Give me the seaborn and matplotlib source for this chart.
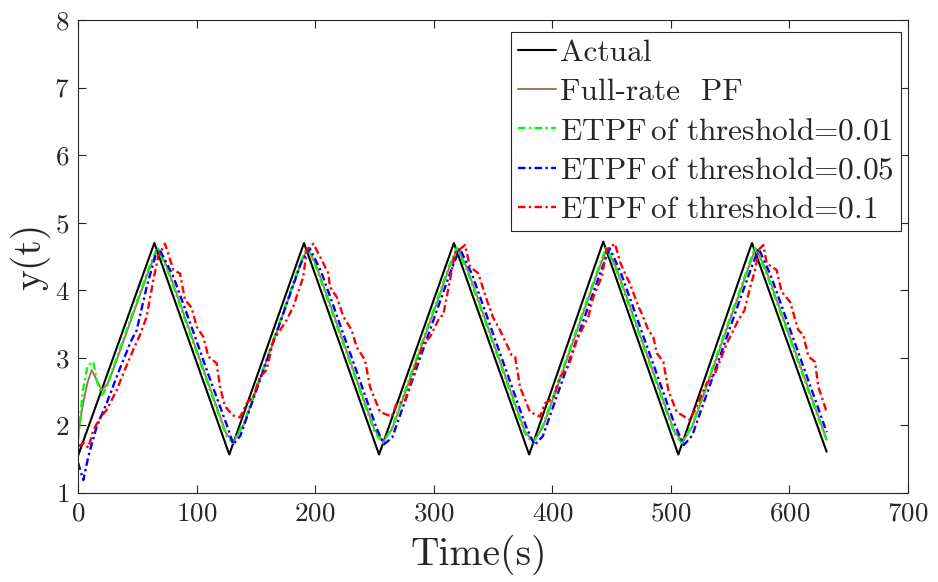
import numpy as np
import pandas as pd
import matplotlib
matplotlib.use("Agg")
import matplotlib.pyplot as plt
import seaborn as sns

# ---------------- data ----------------
actual_t = [0, 64.4, 127.6, 190.6, 253.9, 317, 380.5, 443, 506.3, 568.4, 631.4]
actual_y = [1.55, 4.7, 1.57, 4.7, 1.57, 4.7, 1.57, 4.72, 1.57, 4.7, 1.61]

pf_t = [0, 4, 8, 11.5, 15, 20, 25, 30, 40, 50, 60, 67.5,
        75, 85, 95, 105, 115, 125, 131,
        140, 150, 160, 170, 180, 188, 193.5,
        200, 210, 220, 230, 240, 250, 257.5,
        265, 275, 285, 295, 305, 313, 320,
        328, 338, 348, 358, 368, 377, 384,
        392, 402, 412, 422, 432, 440, 446,
        454, 464, 474, 484, 494, 503, 510,
        518, 528, 538, 548, 558, 566, 571.5,
        580, 590, 600, 610, 620, 631.4]
pf_y = [1.85, 2.3, 2.63, 2.82, 2.7, 2.52, 2.62, 2.84, 3.33, 3.82, 4.31, 4.62,
        4.35, 3.86, 3.36, 2.87, 2.37, 1.88, 1.76,
        2.02, 2.51, 3.0, 3.5, 4.0, 4.4, 4.62,
        4.41, 3.92, 3.42, 2.93, 2.43, 1.94, 1.76,
        1.95, 2.44, 2.94, 3.44, 3.93, 4.33, 4.62,
        4.33, 3.84, 3.34, 2.85, 2.35, 1.91, 1.76,
        1.97, 2.46, 2.96, 3.46, 3.96, 4.35, 4.62,
        4.33, 3.84, 3.34, 2.85, 2.35, 1.91, 1.76,
        1.98, 2.47, 2.97, 3.47, 3.96, 4.36, 4.62,
        4.31, 3.82, 3.33, 2.84, 2.35, 1.79]

e01_t = [0, 4, 8, 12.9, 16, 20, 24, 30, 40, 50, 60, 66.9,
         75, 85, 95, 105, 115, 125, 130.6,
         140, 150, 160, 170, 180, 188, 193.1,
         200, 210, 220, 230, 240, 250, 256.9,
         265, 275, 285, 295, 305, 313, 319.5,
         328, 338, 348, 358, 368, 377, 383.5,
         392, 402, 412, 422, 432, 440, 445.5,
         454, 464, 474, 484, 494, 503, 509.3,
         518, 528, 538, 548, 558, 566, 570.9,
         580, 590, 600, 610, 620, 631.4]
e01_y = [1.78, 2.5, 2.88, 2.94, 2.65, 2.45, 2.55, 2.87, 3.36, 3.85, 4.34, 4.63,
         4.32, 3.83, 3.33, 2.84, 2.34, 1.85, 1.74,
         2.04, 2.54, 3.03, 3.53, 4.03, 4.43, 4.63,
         4.38, 3.89, 3.39, 2.90, 2.40, 1.91, 1.74,
         1.97, 2.47, 2.97, 3.47, 3.96, 4.36, 4.63,
         4.30, 3.81, 3.31, 2.82, 2.32, 1.88, 1.74,
         1.99, 2.49, 2.99, 3.49, 3.99, 4.38, 4.63,
         4.30, 3.81, 3.31, 2.82, 2.32, 1.88, 1.74,
         2.0, 2.5, 3.0, 3.5, 3.99, 4.39, 4.63,
         4.28, 3.79, 3.30, 2.81, 2.32, 1.78]

e05_t = [0, 4.5, 8.7, 15.7, 24.2, 33.7, 45, 49.5, 57.9, 66.3, 68.6,
         80, 90, 100, 110, 120, 126, 131,
         137, 148, 158, 168, 178, 188, 195.5,
         205, 215, 225, 235, 245, 252, 258,
         265, 275, 285, 295, 305, 315, 322,
         332, 342, 352, 362, 372, 378, 385,
         392, 402, 412, 422, 432, 442, 448.5,
         458, 468, 478, 488, 498, 504, 511,
         518, 528, 538, 548, 558, 567, 574,
         584, 594, 604, 614, 624, 631.4]
e05_y = [1.45, 1.19, 1.54, 1.98, 2.33, 2.77, 3.26, 3.41, 4.05, 4.57, 4.61,
         4.22, 3.74, 3.25, 2.75, 2.27, 1.98, 1.72,
         1.85, 2.4, 2.9, 3.4, 3.9, 4.4, 4.62,
         4.28, 3.79, 3.29, 2.80, 2.30, 1.95, 1.72,
         1.82, 2.32, 2.82, 3.32, 3.82, 4.31, 4.62,
         4.25, 3.76, 3.26, 2.77, 2.27, 1.98, 1.71,
         1.84, 2.34, 2.84, 3.34, 3.84, 4.33, 4.62,
         4.25, 3.76, 3.26, 2.77, 2.27, 1.98, 1.71,
         1.85, 2.35, 2.85, 3.35, 3.85, 4.29, 4.62,
         4.23, 3.74, 3.25, 2.76, 2.27, 1.9]

e1_t = [0, 5, 8.7, 12.9, 18.6, 24.2, 32.6, 38.2, 46.6, 52.3, 57.9, 63.5, 67.7, 73.4,
        80.4, 86, 90.2, 95.9, 100.1, 105.7, 109.9, 116.9, 119.8, 124, 130.7, 136.6,
        142.3, 147.9, 153.5, 159.1, 164.7, 170.4, 176, 181.6, 187.2, 190, 192.9, 198.5,
        205.5, 211.1, 212.5, 218.2, 223.8, 230.8, 235, 242, 246.3, 254.7, 264.6,
        268.8, 275.8, 282.8, 291.2, 296.9, 305.3, 308, 313.7, 318, 326.4,
        330.6, 337.6, 344.7, 350, 355.9, 365.8, 368.6, 372.8, 381.2, 389.6,
        393.9, 400.9, 406.5, 413.5, 420.6, 430.4, 434.6, 441.7, 445.9, 452.9,
        457.1, 461.3, 465.5, 472.6, 475.4, 481, 485.2, 488.1, 493.7, 497.9, 504.9, 516.1,
        521.8, 530.2, 537.2, 547.1, 556.9, 562, 567, 571, 574, 578,
        580.8, 589.2, 593.4, 600.5, 607.5, 611.7, 616, 621.6, 624.4, 631.4]
e1_y = [1.69, 1.74, 1.67, 1.93, 2.11, 2.23, 2.52, 2.77, 3.12, 3.34, 3.61, 4.15, 4.5, 4.69,
        4.3, 4.25, 3.86, 3.74, 3.46, 3.31, 3.02, 2.92, 2.57, 2.28, 2.15, 2.12,
        2.33, 2.43, 2.72, 2.82, 3.26, 3.41, 3.56, 3.76, 4.05, 4.2, 4.6, 4.69,
        4.45, 4.25, 4.05, 3.9, 3.61, 3.41, 3.16, 2.97, 2.57, 2.2, 2.13,
        2.33, 2.35, 2.77, 3.21, 3.31, 3.61, 3.63, 4.15, 4.55, 4.67,
        4.35, 4.25, 3.86, 3.6, 3.41, 3.04, 3.02, 2.57, 2.2, 2.13,
        2.33, 2.4, 2.72, 2.87, 3.26, 3.61, 3.9, 4.2, 4.6, 4.69,
        4.42, 4.25, 4.1, 3.76, 3.66, 3.41, 3.31, 3.07, 2.94, 2.52, 2.2, 2.08,
        2.28, 2.62, 2.77, 3.21, 3.56, 3.7, 4.05, 4.3, 4.6, 4.67,
        4.4, 4.3, 3.98, 3.83, 3.41, 3.34, 3.02, 2.94, 2.57, 2.2]

labels = ["Actual", "Full-rate  PF", r"ETPF$\,$of threshold=0.01",
          r"ETPF$\,$of threshold=0.05", r"ETPF$\,$of threshold=0.1"]
x_ticks = [0, 100, 200, 300, 400, 500, 600, 700]
y_ticks = [1, 2, 3, 4, 5, 6, 7, 8]

# ---------------- style ----------------
sns.set_theme(style="white")
plt.rcParams["font.family"] = ["cmr10", "DejaVu Serif"]
plt.rcParams["axes.formatter.use_mathtext"] = True
plt.rcParams["mathtext.fontset"] = "cm"

fig = plt.figure(figsize=(9.38, 5.82), dpi=100)
ax = fig.add_axes([78 / 938, 1 - 493 / 582, 830 / 938, 473 / 582])

dd = (0, (3.2, 1.4, 1.0, 1.4))
series = [
    (actual_t, actual_y, "black", "-", 1.5),
    (pf_t, pf_y, "#a8705c", "-", 1.4),
    (e01_t, e01_y, "#00ff00", dd, 1.7),
    (e05_t, e05_y, "#0000ff", dd, 1.7),
    (e1_t, e1_y, "#ff0000", dd, 1.7),
]
for (t, y, c, ls, lw), lab in zip(series, labels):
    sns.lineplot(x=t, y=y, color=c, linestyle=ls, linewidth=lw, label=lab,
                 ax=ax, sort=False, estimator=None)

ax.set_xlim(0, 700)
ax.set_ylim(1, 8)
ax.set_xticks(x_ticks)
ax.set_yticks(y_ticks)
ax.set_xlabel("Time(s)", fontsize=28.5, labelpad=7, x=0.483)
ax.set_ylabel("y(t)", fontsize=28.5, labelpad=3)
ax.tick_params(direction="in", length=6, width=0.8, labelsize=19.5, colors="#262626",
               top=True, right=True, bottom=True, left=True, pad=6)
for s in ax.spines.values():
    s.set_color("#262626")
    s.set_linewidth(0.8)

leg = ax.legend(loc="upper right", bbox_to_anchor=(0.991, 0.975), fontsize=22.6,
                frameon=True, fancybox=False, edgecolor="#262626", framealpha=1,
                handlelength=1.2, handletextpad=0.12, borderpad=0.22,
                labelspacing=0.36, borderaxespad=0.0)
leg.get_frame().set_linewidth(0.8)

fig.savefig("out.png", dpi=100)
